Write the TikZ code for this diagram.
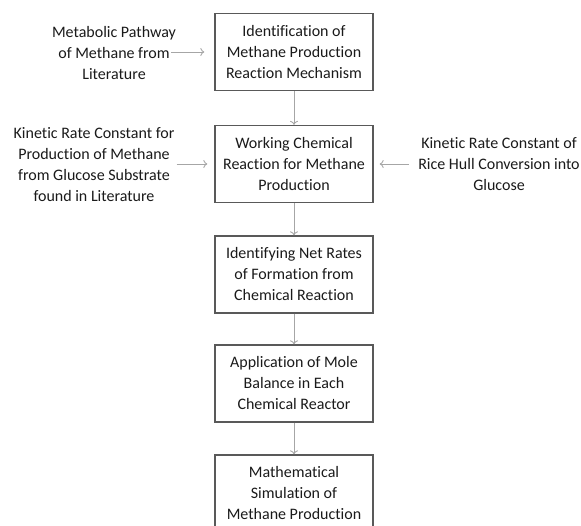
\documentclass[tikz,border=0pt]{standalone}
\usepackage{fontspec}
\setmainfont{Carlito}[Ligatures={NoCommon,NoRare,NoContextual}]
\usetikzlibrary{arrows.meta}
\definecolor{boxline}{HTML}{595959}
\definecolor{arrowgray}{HTML}{A6A6A6}
\definecolor{txt}{HTML}{1A1A1A}
\begin{document}
\begin{tikzpicture}[x=1pt,y=-1pt,
  every node/.style={font=\fontsize{16}{21}\selectfont, text=txt, align=center},
  stepbox/.style={draw=boxline, line width=1.3pt, minimum width=158pt, minimum height=77pt, inner sep=0pt},
  srctext/.style={inner sep=0pt},
  arr/.style={draw=arrowgray, line width=0.9pt, -{To[length=4pt,width=8pt]}}]
\useasboundingbox (0,0) rectangle (581,526);
\clip (0,0) rectangle (581,526);
\node[stepbox] (b1) at (294,52) {Identification of\\Methane Production\\Reaction Mechanism};
\node[stepbox] (b2) at (294,164) {Working Chemical\\Reaction for Methane\\Production};
\node[stepbox] (b3) at (294,274.5) {Identifying Net Rates\\of Formation from\\Chemical Reaction};
\node[stepbox] (b4) at (294,383.5) {Application of Mole\\Balance in Each\\Chemical Reactor};
\node[stepbox] (b5) at (294,493.5) {Mathematical\\Simulation of\\Methane Production};
\node[srctext] (t1) at (114,53) {Metabolic Pathway\\of Methane from\\Literature};
\node[srctext] (t2) at (94,165) {Kinetic Rate Constant for\\Production of Methane\\from Glucose Substrate\\found in Literature};
\node[srctext] (t3) at (499,164) {Kinetic Rate Constant of\\Rice Hull Conversion into\\Glucose};
\draw[arr, shorten >=10pt] (t1.east |- b1.west) ++(-5pt,0) -- (b1.west);
\draw[arr, shorten <=2pt, shorten >=7pt] (t2.east |- b2.west) -- (b2.west);
\draw[arr, shorten <=9pt, shorten >=6pt] (t3.west |- b2.east) -- (b2.east);
\draw[arr] (b1.south) -- (b2.north);
\draw[arr] (b2.south) -- (b3.north);
\draw[arr] (b3.south) -- (b4.north);
\draw[arr] (b4.south) -- (b5.north);
\end{tikzpicture}
\end{document}
